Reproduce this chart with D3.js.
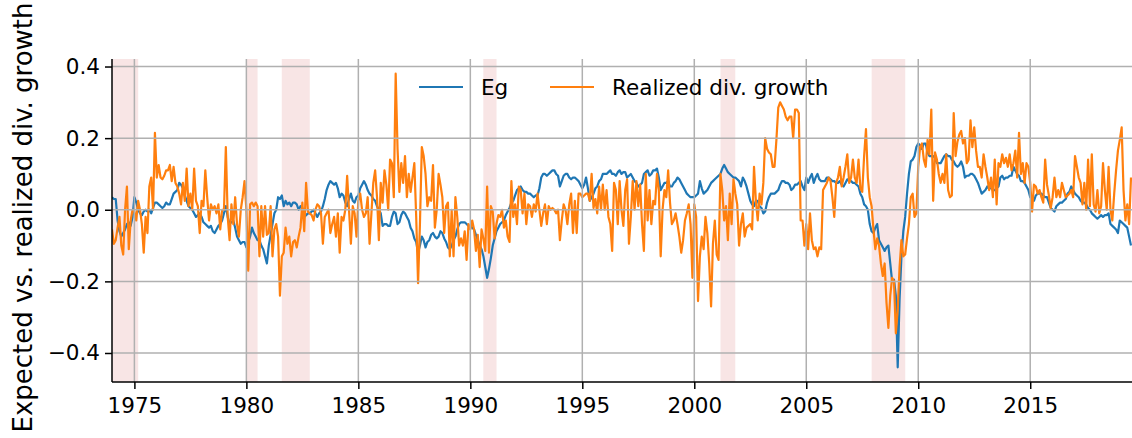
<!DOCTYPE html>
<html>
<head>
<meta charset="utf-8">
<script src="https://cdn.jsdelivr.net/npm/d3@7"></script>
<style>
  html, body { margin: 0; padding: 0; background: #fff; }
  svg { display: block; font-family: "DejaVu Sans", sans-serif; }
</style>
</head>
<body>
<svg id="chart" width="1132" height="438"></svg>
<script>
// ---------------- data (monthly, starting Jan 1974) ----------------
const startYear = 1974;
const seriesNames = ["Eg", "Realized div. growth"];
const seriesColors = ["#1f77b4", "#ff7f0e"];

const eg = [
  0.035, 0.03, 0.03, -0.03, -0.06, -0.075, -0.065, -0.055, -0.04, -0.035, -0.045, -0.02,
  0.035, 0.02, 0.0, -0.01, -0.015, -0.005, 0.0, -0.005, 0.0, -0.01, 0.005, 0.02,
  0.02, 0.015, 0.01, 0.005, 0.01, 0.02, 0.015, 0.015, 0.03, 0.045, 0.05, 0.055,
  0.075, 0.07, 0.06, 0.04, 0.025, 0.01, 0.005, 0.0, -0.01, -0.02, -0.015, -0.01,
  -0.02, -0.035, -0.04, -0.045, -0.05, -0.045, -0.06, -0.065, -0.055, -0.045, -0.04, -0.03,
  -0.01, 0.01, -0.02, -0.04, -0.035, -0.03, -0.05, -0.075, -0.085, -0.095, -0.09, -0.09,
  -0.105, -0.09, -0.075, -0.05, -0.065, -0.075, -0.085, -0.085, -0.1, -0.11, -0.13, -0.15,
  -0.1, -0.07, -0.04, -0.01, 0.0, 0.035, 0.03, 0.04, 0.01, 0.025, 0.015, 0.02,
  0.01, 0.02, 0.02, 0.015, 0.0, 0.01, 0.005, -0.02, -0.015, -0.01, -0.01, -0.005,
  0.0, -0.01, -0.02, -0.01, -0.005, 0.01, 0.03, 0.055, 0.07, 0.08, 0.075, 0.07,
  0.075, 0.06, 0.035, 0.045, 0.04, 0.02, 0.01, 0.03, 0.045, 0.025, 0.02, 0.035,
  0.04, 0.06, 0.07, 0.08, 0.07, 0.055, 0.045, 0.04, 0.03, 0.025, 0.01, 0.0,
  -0.01, -0.045, -0.04, -0.04, -0.045, -0.045, -0.02, -0.005, -0.01, -0.04, -0.035, -0.015,
  -0.005, -0.01, -0.02, -0.03, -0.05, -0.06, -0.08, -0.09, -0.12, -0.1, -0.075, -0.085,
  -0.105, -0.09, -0.085, -0.07, -0.065, -0.075, -0.08, -0.075, -0.06, -0.065, -0.08, -0.09,
  -0.105, -0.11, -0.1, -0.085, -0.075, -0.055, -0.04, -0.035, -0.035, -0.035, -0.04, -0.045,
  -0.045, -0.05, -0.055, -0.07, -0.085, -0.1, -0.11, -0.13, -0.16, -0.19, -0.165, -0.135,
  -0.1, -0.08, -0.06, -0.05, -0.04, -0.035, -0.03, -0.015, -0.005, 0.005, 0.02, 0.025,
  0.04, 0.055, 0.06, 0.065, 0.055, 0.05, 0.05, 0.045, 0.045, 0.04, 0.035, 0.04,
  0.04, 0.06, 0.09, 0.1, 0.1, 0.095, 0.1, 0.105, 0.11, 0.11, 0.1, 0.095,
  0.065, 0.08, 0.095, 0.1, 0.1, 0.09, 0.085, 0.09, 0.09, 0.085, 0.08, 0.07,
  0.06, 0.07, 0.09, 0.06, 0.025, 0.035, 0.045, 0.06, 0.065, 0.08, 0.085, 0.1,
  0.1, 0.1, 0.105, 0.11, 0.1, 0.1, 0.095, 0.105, 0.11, 0.1, 0.105, 0.105,
  0.09, 0.095, 0.1, 0.09, 0.08, 0.075, 0.065, 0.07, 0.075, 0.1, 0.105, 0.11,
  0.095, 0.1, 0.11, 0.11, 0.115, 0.09, 0.055, 0.065, 0.075, 0.075, 0.08, 0.065,
  0.065, 0.075, 0.08, 0.09, 0.085, 0.075, 0.065, 0.055, 0.045, 0.04, 0.035, 0.035,
  0.035, 0.04, 0.045, 0.08, 0.06, 0.045, 0.05, 0.055, 0.065, 0.075, 0.08, 0.085,
  0.09, 0.095, 0.1, 0.115, 0.125, 0.115, 0.105, 0.1, 0.095, 0.09, 0.09, 0.085,
  0.08, 0.065, 0.09, 0.08, 0.065, 0.045, 0.025, 0.015, 0.01, 0.025, 0.025, 0.01,
  0.005, -0.01, -0.005, 0.02, 0.035, 0.045, 0.045, 0.045, 0.05, 0.055, 0.07, 0.08,
  0.08, 0.075, 0.075, 0.07, 0.055, 0.06, 0.07, 0.07, 0.075, 0.08, 0.065, 0.055,
  0.09, 0.075, 0.09, 0.1, 0.075, 0.09, 0.1, 0.085, 0.08, 0.08, 0.08, 0.09,
  0.09, 0.085, 0.08, 0.08, 0.075, 0.075, 0.08, 0.07, 0.065, 0.075, 0.085, 0.08,
  0.08, 0.075, 0.075, 0.07, 0.065, 0.045, 0.035, 0.015, 0.01, 0.0, -0.04, -0.06,
  -0.065, -0.05, -0.04, -0.085, -0.095, -0.105, -0.115, -0.105, -0.1, -0.15, -0.2, -0.195,
  -0.24, -0.44, -0.25, -0.13, -0.06, -0.02, 0.045, 0.1, 0.135, 0.14, 0.15, 0.175,
  0.185, 0.18, 0.17, 0.185, 0.185, 0.16, 0.15, 0.15, 0.15, 0.145, 0.13, 0.13,
  0.13, 0.14, 0.15, 0.155, 0.15, 0.15, 0.14, 0.135, 0.125, 0.12, 0.125, 0.135,
  0.12, 0.09, 0.095, 0.095, 0.1, 0.1, 0.095, 0.085, 0.075, 0.06, 0.045, 0.05,
  0.055, 0.065, 0.06, 0.06, 0.055, 0.055, 0.06, 0.065, 0.09, 0.095, 0.085, 0.09,
  0.09, 0.095, 0.095, 0.12, 0.11, 0.1, 0.095, 0.08, 0.08, 0.075, 0.065, 0.055,
  0.035, 0.03, 0.025, 0.04, 0.045, 0.045, 0.045, 0.04, 0.035, 0.035, 0.02, 0.005,
  0.0, -0.005, 0.01, 0.015, 0.02, 0.02, 0.025, 0.03, 0.045, 0.05, 0.065, 0.055,
  0.045, 0.04, 0.035, 0.025, 0.02, 0.02, 0.015, 0.005, 0.0, -0.01, -0.015, -0.02,
  -0.025, -0.02, -0.015, -0.02, -0.015, -0.015, -0.01, -0.04, -0.045, -0.05, -0.055, -0.065,
  -0.03, -0.035, -0.04, -0.045, -0.05, -0.075, -0.1
];

const realized = [
  -0.055, -0.095, -0.085, -0.05, -0.02, -0.1, -0.125, 0.0, 0.065, -0.11, -0.03, 0.0,
  -0.005, -0.03, 0.025, 0.0, -0.04, -0.12, -0.02, -0.065, 0.065, 0.09, 0.0, 0.215,
  0.09, 0.125, 0.09, 0.085, 0.095, 0.11, 0.11, 0.125, 0.08, 0.12, 0.075, 0.065,
  0.045, 0.015, 0.075, 0.025, 0.115, 0.01, 0.045, 0.0, 0.115, 0.025, 0.01, -0.065,
  0.025, 0.01, 0.11, 0.035, -0.03, 0.015, 0.0, 0.01, -0.01, 0.015, -0.055, 0.0,
  0.0, 0.175, -0.02, -0.085, 0.015, -0.04, 0.035, -0.04, -0.075, 0.0, 0.035, 0.08,
  0.0, -0.17, 0.015, 0.02, 0.01, 0.02, 0.01, -0.13, 0.01, -0.075, 0.01, -0.07,
  -0.065, 0.01, -0.13, -0.055, -0.04, -0.075, -0.24, -0.13, -0.12, -0.05, -0.095, -0.075,
  -0.13, -0.09, -0.085, -0.105, -0.075, -0.05, 0.02, -0.06, 0.075, -0.005, -0.01, -0.015,
  -0.03, 0.0, 0.015, 0.01, -0.01, -0.095, -0.02, -0.01, 0.0, -0.065, -0.04, -0.02,
  -0.075, -0.01, -0.12, -0.02, -0.03, 0.0, 0.095, 0.0, -0.095, 0.01, -0.01, -0.075,
  0.025, 0.045, 0.0, -0.02, -0.01, 0.035, -0.095, -0.01, 0.075, 0.11, 0.035, -0.085,
  0.075, 0.02, 0.11, 0.07, 0.0, 0.14, 0.13, 0.035, 0.38, 0.17, 0.05, 0.13,
  0.075, 0.15, 0.035, 0.1, 0.05, 0.09, 0.13, -0.02, -0.205, -0.04, 0.175, 0.15,
  0.1, 0.01, 0.035, 0.025, 0.125, -0.05, 0.0, 0.1, 0.07, 0.035, -0.065, 0.01,
  0.02, -0.13, 0.0, -0.13, 0.035, -0.02, -0.1, -0.08, -0.1, -0.06, -0.14, -0.04,
  -0.055, -0.03, -0.055, -0.115, -0.07, -0.16, -0.055, -0.08, -0.115, 0.065, -0.12, 0.01,
  -0.005, -0.08, -0.04, -0.015, -0.02, 0.0, -0.05, -0.03, -0.075, -0.09, 0.08, -0.02,
  0.015, -0.04, 0.065, 0.055, -0.01, 0.045, -0.04, 0.015, 0.01, -0.02, 0.015, -0.005,
  0.045, 0.0, -0.045, -0.01, 0.015, -0.04, 0.01, 0.0, 0.005, 0.0, -0.01, 0.0,
  -0.085, -0.03, 0.015, 0.0, -0.04, 0.015, 0.045, -0.065, 0.025, -0.065, 0.045, 0.045,
  0.035, 0.04, 0.045, 0.045, 0.025, 0.1, 0.005, 0.03, -0.01, 0.065, 0.0, 0.07,
  0.0, 0.055, -0.02, -0.04, -0.115, 0.075, 0.055, -0.04, 0.08, 0.0, -0.045, 0.055,
  0.085, -0.095, -0.02, 0.08, 0.0, 0.08, 0.01, 0.07, -0.04, -0.115, 0.1, -0.03,
  0.055, -0.04, 0.025, 0.015, 0.1, 0.055, -0.13, 0.0, 0.055, 0.035, 0.11, 0.02,
  -0.04, -0.03, -0.01, -0.04, -0.075, -0.12, -0.085, -0.03, -0.01, 0.015, -0.04, -0.19,
  0.015, -0.02, -0.255, -0.13, -0.075, -0.11, -0.02, -0.065, -0.15, -0.27, -0.095, -0.03,
  -0.125, -0.14, 0.1, 0.055, -0.03, 0.01, -0.085, 0.045, -0.04, 0.085, 0.045, 0.015,
  -0.1, -0.04, -0.01, -0.075, -0.05, -0.045, -0.04, -0.055, 0.12, 0.025, -0.03, 0.045,
  0.015, 0.075, 0.2, 0.17, 0.16, 0.155, 0.12, 0.12, 0.195, 0.285, 0.3, 0.29,
  0.28, 0.26, 0.25, 0.26, 0.26, 0.2, 0.28, 0.28, 0.27, -0.03, -0.03, -0.1,
  -0.04, -0.11, -0.01, -0.085, -0.11, -0.105, -0.13, -0.105, -0.11, 0.055, 0.065, 0.075,
  0.09, 0.08, 0.035, -0.02, 0.075, 0.09, 0.12, 0.065, 0.09, 0.12, 0.155, 0.075,
  0.09, 0.14, 0.09, 0.075, 0.14, 0.06, 0.05, 0.15, 0.225, 0.09, 0.035, 0.01,
  -0.055, -0.11, -0.08, -0.1, -0.15, -0.185, -0.15, -0.26, -0.33, -0.24, -0.19, -0.2,
  -0.345, -0.28, -0.16, -0.085, -0.13, -0.125, -0.08, -0.04, 0.035, 0.045, -0.02, -0.01,
  0.12, 0.175, 0.185, 0.14, 0.12, 0.195, 0.155, 0.28, 0.025, 0.16, 0.14, 0.1,
  0.075, 0.1, 0.075, 0.155, 0.055, 0.035, 0.04, 0.27, 0.15, 0.19, 0.21, 0.22,
  0.185, 0.2, 0.13, 0.14, 0.25, 0.175, 0.23, 0.165, 0.12, 0.12, 0.09, 0.155,
  0.12, 0.09, 0.055, 0.09, 0.035, 0.14, 0.015, 0.13, 0.12, 0.155, 0.13, 0.145,
  0.12, 0.155, 0.11, 0.13, 0.165, 0.09, 0.215, 0.1, 0.13, 0.075, 0.13, 0.12,
  0.075, -0.005, 0.07, 0.065, 0.045, 0.055, 0.035, 0.02, 0.14, 0.07, 0.04, 0.005,
  0.035, 0.09, 0.035, 0.055, 0.035, 0.075, 0.055, 0.035, 0.04, 0.045, 0.055, 0.035,
  0.15, 0.12, 0.09, 0.075, 0.015, 0.075, 0.0, 0.14, 0.01, 0.155, 0.015, -0.005,
  0.055, -0.01, 0.01, 0.13, 0.055, 0.0, 0.12, 0.0, -0.03, 0.045, 0.11, 0.165,
  0.195, 0.23, 0.055, -0.03, 0.015, -0.04, 0.09
];

// NBER recessions (decimal years)
const recessionStarts = [1973.83, 1980.0, 1981.58, 1990.58, 2001.17, 2007.92];
const recessionEnds   = [1975.17, 1980.5, 1982.83, 1991.17, 2001.83, 2009.42];

const xTickValues = [1975, 1980, 1985, 1990, 1995, 2000, 2005, 2010, 2015];
const yTickValues = [-0.4, -0.2, 0.0, 0.2, 0.4];
const yLabel = "Expected vs. realized div. growth";

// ---------------- drawing ----------------
const svg = d3.select("#chart");
const L = 112, R = 1131, T = 59, B = 382;
const tickFont = "21.5px", legendFont = "21.5px", labelFont = "26px";

const nMonths = Math.max(eg.length, realized.length);
const x = d3.scaleLinear()
  .domain([startYear, startYear + (nMonths - 1) / 12])
  .range([L, R]);
const y = d3.scaleLinear().domain([-0.481, 0.421]).range([B, T]);

svg.append("defs").append("clipPath").attr("id", "plotclip")
  .append("rect").attr("x", L).attr("y", T).attr("width", 1132 - L).attr("height", B - T);

const plot = svg.append("g").attr("clip-path", "url(#plotclip)");

// recession shading
plot.selectAll("rect.rec")
  .data(recessionStarts.map((s, i) => [s, recessionEnds[i]]))
  .join("rect")
  .attr("class", "rec")
  .attr("x", d => x(d[0]))
  .attr("width", d => x(d[1]) - x(d[0]))
  .attr("y", T).attr("height", B - T)
  .attr("fill", "#f8e5e5");

// grid
const grid = svg.append("g");
grid.selectAll("line.gy").data(yTickValues).join("line")
  .attr("x1", L).attr("x2", 1132)
  .attr("y1", d => y(d)).attr("y2", d => y(d))
  .attr("stroke", "#b0b0b0").attr("stroke-width", 1.5);
grid.selectAll("line.gx").data(xTickValues).join("line")
  .attr("x1", d => x(d)).attr("x2", d => x(d))
  .attr("y1", T).attr("y2", B)
  .attr("stroke", "#b0b0b0").attr("stroke-width", 1.5);

// lines
const toPts = arr => arr.map((v, i) => [startYear + i / 12, v]);
const line = d3.line().x(d => x(d[0])).y(d => y(d[1]));
[eg, realized].forEach((arr, k) => {
  plot.append("path")
    .datum(toPts(arr))
    .attr("d", line)
    .attr("fill", "none")
    .attr("stroke", seriesColors[k])
    .attr("stroke-width", 2.2)
    .attr("stroke-linejoin", "round");
});

// axes
const fmtY = v => (v < 0 ? "\u2212" : "") + Math.abs(v).toFixed(1);
const yAxis = d3.axisLeft(y).tickValues(yTickValues).tickFormat(fmtY).tickSize(7).tickPadding(5);
const xAxis = d3.axisBottom(x).tickValues(xTickValues).tickFormat(d3.format("d")).tickSize(7).tickPadding(9);

const gy = svg.append("g").attr("transform", `translate(${L},0)`).call(yAxis);
const gx = svg.append("g").attr("transform", `translate(0,${B})`).call(xAxis);
[gx, gy].forEach(g => {
  g.attr("font-family", "DejaVu Sans, sans-serif").attr("font-size", tickFont);
  g.select(".domain").attr("stroke", "#000").attr("stroke-width", 1.5);
  g.selectAll(".tick line").attr("stroke", "#000").attr("stroke-width", 1.5);
  g.selectAll(".tick text").attr("fill", "#000")
    .style("font-family", "'DejaVu Sans', sans-serif").style("font-size", tickFont);
});
gx.select(".domain").attr("d", `M${L},0H1132`);
gy.select(".domain").attr("d", `M0,${B}V${T}`);

// y label
svg.append("text")
  .attr("transform", `translate(32,217.5) rotate(-90)`)
  .attr("text-anchor", "middle")
  .style("font-size", labelFont)
  .attr("fill", "#000")
  .text(yLabel);

// legend
const legendX = [419, 550];
const leg = svg.append("g");
seriesNames.forEach((name, k) => {
  leg.append("line")
    .attr("x1", legendX[k]).attr("x2", legendX[k] + 44)
    .attr("y1", 87).attr("y2", 87)
    .attr("stroke", seriesColors[k]).attr("stroke-width", 2.2);
  leg.append("text")
    .attr("x", legendX[k] + 62).attr("y", 94.5)
    .style("font-size", legendFont).attr("fill", "#000")
    .text(name);
});
</script>
</body>
</html>
